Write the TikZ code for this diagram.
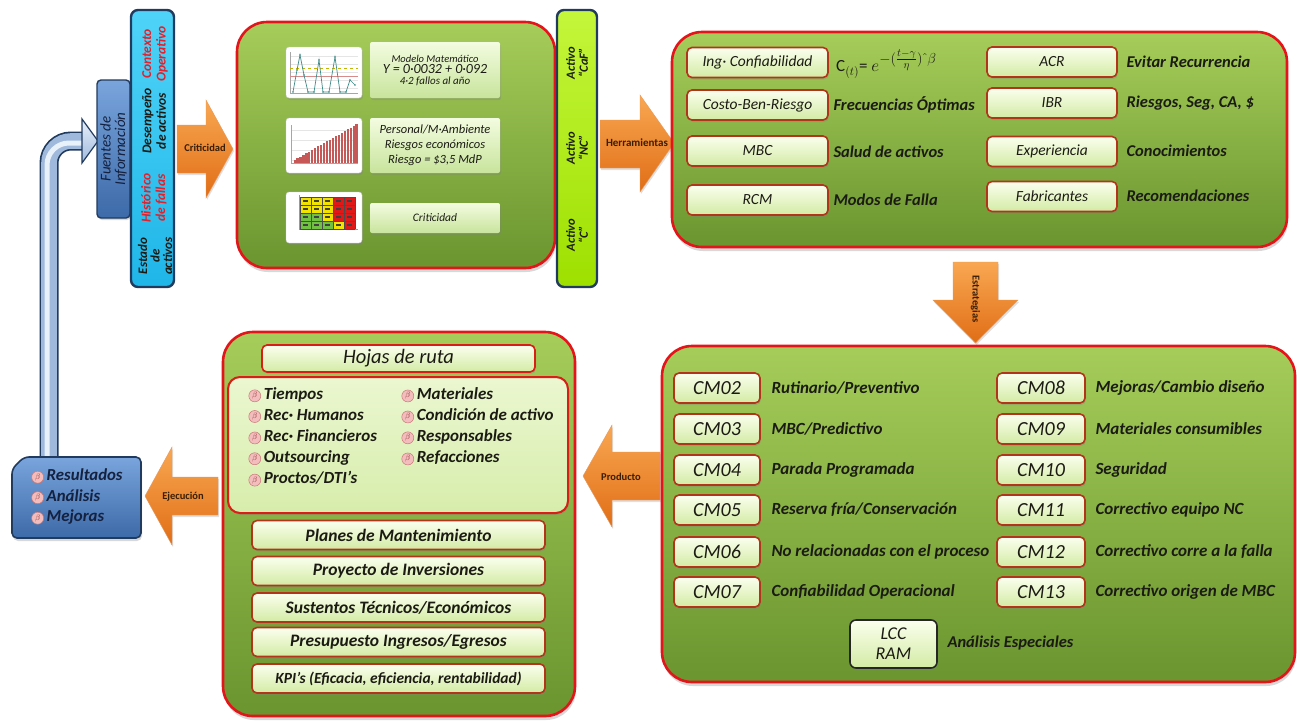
\documentclass[tikz,border=0pt]{standalone}
\usepackage{fontspec}
\setmainfont{Carlito}
\usetikzlibrary{shadows}

\definecolor{panelTop}{HTML}{A6CD5A}
\definecolor{panelBot}{HTML}{6A952F}
\definecolor{panelRed}{HTML}{E3151B}
\definecolor{boxTop}{HTML}{FBFFEE}
\definecolor{boxBot}{HTML}{D3EBA4}
\definecolor{boxLine}{HTML}{B2351B}
\definecolor{listRed}{HTML}{D81E16}
\definecolor{arrTop}{HTML}{F9A752}
\definecolor{arrBot}{HTML}{E06E16}
\definecolor{arrTxt}{HTML}{3A1E05}
\definecolor{cyanTop}{HTML}{4FD3F8}
\definecolor{cyanBot}{HTML}{1FB6E8}
\definecolor{navyLine}{HTML}{213B5E}
\definecolor{limeTop}{HTML}{C4F63A}
\definecolor{limeBot}{HTML}{9EE000}
\definecolor{steelTop}{HTML}{79A4DC}
\definecolor{steelBot}{HTML}{3D6AA8}
\definecolor{inkRed}{HTML}{E3202B}
\definecolor{ink}{HTML}{1B1B14}
\definecolor{navyInk}{HTML}{14213F}
\definecolor{bulFill}{HTML}{F3BDBD}
\definecolor{bulLine}{HTML}{C87878}
\definecolor{bulText}{HTML}{9A3A3A}
\definecolor{pipeMid}{HTML}{9FB9DD}
\definecolor{pipeHi}{HTML}{E8F0FA}
\definecolor{mTop}{HTML}{F3FCE0}
\definecolor{mBot}{HTML}{C8E49C}
\definecolor{rkY}{HTML}{F2E400}
\definecolor{rkR}{HTML}{E01818}
\definecolor{rkG}{HTML}{72C043}
\definecolor{plotLine}{HTML}{3F8C8A}
\definecolor{barRed}{HTML}{C65858}

% pink bullet with a beta
\newcommand{\bpt}{\tikz[baseline={(0pt,-3.8pt)}]\node[circle,draw=bulLine,fill=bulFill,line width=0.5pt,inner sep=0pt,minimum size=12pt,text=bulText,font=\fontsize{8.5}{8.5}\selectfont]{$\beta$};\,}

\begin{document}
\begin{tikzpicture}[x=1pt,y=-1pt,
  panel/.style={draw=panelRed,line width=2.6pt,rounded corners=30pt,top color=panelTop,bottom color=panelBot,
    drop shadow={shadow xshift=1pt,shadow yshift=-4pt,opacity=0.3}},
  tbox/.style={draw=boxLine,line width=1.6pt,rounded corners=5pt,top color=boxTop,bottom color=boxBot,inner sep=1pt,
    text=ink,drop shadow={shadow xshift=1pt,shadow yshift=-2pt,opacity=0.3}},
  mbox/.style={draw=none,rounded corners=2pt,top color=mTop,bottom color=mBot,align=center,text=ink,
    drop shadow={shadow xshift=1pt,shadow yshift=-2pt,opacity=0.3}},
  chart/.style={draw=black!20,line width=0.4pt,fill=white,rounded corners=3pt,
    drop shadow={shadow xshift=1pt,shadow yshift=-2pt,opacity=0.3}},
  vbar/.style={draw=navyLine,line width=2.4pt,rounded corners=7pt},
  orng/.style={top color=arrTop,bottom color=arrBot,draw=arrBot!70!white,line width=0.4pt,
    drop shadow={shadow xshift=1pt,shadow yshift=-2pt,opacity=0.25}},
  albl/.style={font=\fontsize{10.5}{12}\selectfont\bfseries,text=arrTxt},
  vtxt/.style={rotate=90,align=center,font=\fontsize{13.5}{14.5}\selectfont\bfseries\itshape,text=ink},
  desctxt/.style={anchor=west,font=\fontsize{16.5}{18}\selectfont\bfseries\itshape,text=ink},
  cmtxt/.style={anchor=west,font=\fontsize{17}{18}\selectfont\bfseries\itshape,text=ink},
  tooltxt/.style={font=\fontsize{15.5}{17}\selectfont\itshape},
  cmlbl/.style={font=\fontsize{20}{22}\selectfont\itshape},
  listitem/.style={anchor=west,font=\fontsize{17}{19}\selectfont\bfseries\itshape,text=ink},
  rowtxt/.style={font=\fontsize{17.5}{19}\selectfont\bfseries\itshape}
]
\useasboundingbox (0,0) rectangle (1297,721);
\fill[white] (0,0) rectangle (1297,721);

% ---------- feedback pipe from the results box back to the sources ----------
\coordinate (pipeStart) at (49,458);
\coordinate (pipeEnd) at (84,141);
\draw[navyLine,line width=19pt,rounded corners=22pt] (pipeStart) |- (pipeEnd);
\draw[pipeMid,line width=15.6pt,rounded corners=22pt] (pipeStart) |- (pipeEnd);
\draw[pipeHi,line width=5pt,rounded corners=22pt] ([xshift=-2pt]pipeStart) |- ([yshift=-2pt]pipeEnd);
\draw[navyLine,line width=1.2pt,top color=pipeHi,bottom color=pipeMid] (82,119) -- (98,141) -- (82,163) -- cycle;

% ---------- block arrows ----------
\path[orng] (177,125) -- (206,125) -- (206,100) -- (233,149) -- (206,198) -- (206,173) -- (177,173) -- cycle;
\node[albl] (aCrit) at (205,148) {Criticidad};
\path[orng] (600,120) -- (640,120) -- (640,95) -- (674,143) -- (640,192) -- (640,168) -- (600,168) -- cycle;
\path[orng] (953,262) -- (998,262) -- (998,300) -- (1018,300) -- (975.5,343) -- (933,300) -- (953,300) -- cycle;
\node[albl,rotate=-90] (aEstr) at (975.5,299) {Estrategias};
\path[orng] (660,452) -- (612,452) -- (612,425) -- (583,476) -- (612,527) -- (612,500) -- (660,500) -- cycle;
\node[albl] (aProd) at (621,477) {Producto};
\path[orng] (218,477) -- (172,477) -- (172,447) -- (145,496) -- (172,545) -- (172,515) -- (218,515) -- cycle;
\node[albl] (aEjec) at (183,497) {Ejecución};

% ---------- information sources ----------
\node[draw=navyLine,line width=1.4pt,rounded corners=4pt,top color=steelTop,bottom color=steelBot,
      minimum width=33pt,minimum height=138pt,
      drop shadow={shadow xshift=1pt,shadow yshift=-2pt,opacity=0.3}] (fuentes) at (113.5,149) {};
\node[rotate=90,align=center,font=\fontsize{15}{14.5}\selectfont\itshape,text=navyInk] (fuentesT) at (fuentes) {Fuentes de\\Información};

\node[vbar,top color=cyanTop,bottom color=cyanBot,minimum width=43pt,minimum height=277pt] (datos) at (152.5,148.5) {};
\node[vtxt,text=inkRed] (d1) at (155,54) {Contexto\\Operativo};
\node[vtxt] (d2) at (154,121) {Desempeño\\de activos};
\node[vtxt,text=inkRed] (d3) at (154,198) {Histórico\\de fallas};
\node[vtxt,font=\fontsize{13}{12.5}\selectfont\bfseries\itshape] (d4) at (155,256) {Estado\\de\\activos};

% ---------- criticality panel ----------
\node[panel,minimum width=318pt,minimum height=246pt] (pCrit) at (396,145) {};

\node[chart,minimum width=76pt,minimum height=51pt] (ch1) at (324,72.5) {};
\foreach \yy in {56,64,72,80,88} \draw[black!10,line width=0.3pt] (290,\yy) -- (358,\yy);
\draw[black!35,line width=0.4pt] (290,52) -- (290,93) -- (358,93);
\draw[rkY!80!black,line width=0.5pt,dashed] (290,68) -- (358,68);
\draw[barRed!70!white,line width=1pt] (290,76) -- (358,76);
\draw[plotLine,line width=0.7pt] (293,92) -- (297,70) -- (300,55) -- (304,75) -- (308,92) -- (314,92) -- (319,60) -- (323,92)
  -- (329,92) -- (335,57) -- (340,92) -- (346,92) -- (350,80) -- (355,85);
\foreach \px/\py in {293/92,297/70,300/55,304/75,308/92,314/92,319/60,323/92,329/92,335/57,340/92,346/92,350/80,355/85}
  \fill[plotLine] (\px,\py) circle (0.9pt);

\node[chart,minimum width=76pt,minimum height=55pt] (ch2) at (324,145.5) {};
\foreach \yy in {130,140,150,160} \draw[black!10,line width=0.3pt] (291,\yy) -- (358,\yy);
\draw[black!35,line width=0.4pt] (291,125) -- (291,163) -- (358,163);
\foreach \i in {0,...,21}
  \fill[barRed] ({293.5+\i*2.95},163) rectangle ({293.5+\i*2.95+2.2},{163-3-\i*1.7});

\node[chart,minimum width=76pt,minimum height=51pt] (ch3) at (324,217.5) {};
\draw[black!40,line width=0.4pt] (299,195) -- (299,229) -- (358,229);
\foreach \c [count=\k from 0] in {rkY,rkY,rkY,rkR,rkR} \fill[\c] ({300+\k*11},197) rectangle ({300+\k*11+11},205);
\foreach \c [count=\k from 0] in {rkY,rkY,rkY,rkR,rkR} \fill[\c] ({300+\k*11},205) rectangle ({300+\k*11+11},213);
\foreach \c [count=\k from 0] in {rkG,rkG,rkY,rkR,rkR} \fill[\c] ({300+\k*11},213) rectangle ({300+\k*11+11},221);
\foreach \c [count=\k from 0] in {rkG,rkG,rkG,rkY,rkR} \fill[\c] ({300+\k*11},221) rectangle ({300+\k*11+11},229);
\foreach \k in {0,...,5} \draw[black!70,line width=0.3pt] ({300+\k*11},197) -- ({300+\k*11},229);
\foreach \k in {0,...,4} \draw[black!70,line width=0.3pt] (300,{197+\k*8}) -- (355,{197+\k*8});
\foreach \k in {0,...,4}
  \foreach \r in {0,...,3}
    \fill[black!75] ({303+\k*11},{200+\r*8}) rectangle ({308+\k*11},{202+\r*8});

\node[mbox,minimum width=130pt,minimum height=56pt] (m1) at (435,70)
  {{\fontsize{10.5}{13}\selectfont\itshape Modelo Matemático}\\[-1pt]
   {\fontsize{14}{15}\selectfont\itshape Y = 0·0032 + 0·092}\\[-1pt]
   {\fontsize{11}{12}\selectfont\itshape 4·2 fallos al año}};
\node[mbox,minimum width=130pt,minimum height=55pt,font=\fontsize{12.5}{15}\selectfont\itshape] (m2) at (435,145.5)
  {Personal/M·Ambiente\\Riesgos económicos\\Riesgo = \$3,5 MdP};
\node[mbox,minimum width=130pt,minimum height=30pt,font=\fontsize{11.5}{13}\selectfont\itshape] (m3) at (435,218) {Criticidad};

% ---------- asset class bar ----------
\node[vbar,top color=limeTop,bottom color=limeBot,minimum width=40pt,minimum height=277pt] (clase) at (577,148.5) {};
\node[vtxt,font=\fontsize{12.5}{13}\selectfont\bfseries\itshape] (c1) at (577,63) {Activo\\“CaF”};
\node[vtxt,font=\fontsize{12.5}{13}\selectfont\bfseries\itshape] (c2) at (577,148) {Activo\\“NC”};
\node[vtxt,font=\fontsize{12.5}{13}\selectfont\bfseries\itshape] (c3) at (577,235) {Activo\\“C”};

\node[albl,font=\fontsize{11}{12}\selectfont\bfseries] (aHerr) at (637,143) {Herramientas};

% ---------- tools panel ----------
\node[panel,minimum width=615pt,minimum height=215pt] (pHerr) at (979.5,139.5) {};

\node[tbox,tooltxt,minimum width=141pt,minimum height=30pt] (h1) at (757.5,62.5) {Ing· Confiabilidad};
\node[tbox,tooltxt,minimum width=141pt,minimum height=30pt] (h2) at (757.5,105) {Costo-Ben-Riesgo};
\node[tbox,tooltxt,minimum width=141pt,minimum height=30pt] (h3) at (757.5,151) {MBC};
\node[tbox,tooltxt,minimum width=141pt,minimum height=30pt] (h4) at (757.5,200) {RCM};
% reliability formula, exponent set larger than a plain superscript
\node[anchor=west,font=\fontsize{17}{19}\selectfont,text=ink,inner sep=1pt] (f1) at (835,64)
  {C$_{(t)}$= $e$\raisebox{1.1ex}{\fontsize{15}{15}\selectfont$-(\frac{t-\gamma}{\eta})\,\hat{}\,\beta$}};
\node[desctxt] (f2) at (830,105) {Frecuencias Óptimas};
\node[desctxt] (f3) at (830,152) {Salud de activos};
\node[desctxt] (f4) at (830,200) {Modos de Falla};

\node[tbox,tooltxt,minimum width=130pt,minimum height=30pt] (h5) at (1052,62) {ACR};
\node[tbox,tooltxt,minimum width=130pt,minimum height=30pt] (h6) at (1052,103) {IBR};
\node[tbox,tooltxt,minimum width=130pt,minimum height=30pt] (h7) at (1052,151.5) {Experiencia};
\node[tbox,tooltxt,minimum width=130pt,minimum height=30pt] (h8) at (1052,196.5) {Fabricantes};
\node[desctxt] (f5) at (1123,62) {Evitar Recurrencia};
\node[desctxt] (f6) at (1123,103) {Riesgos, Seg, CA, \$};
\node[desctxt] (f7) at (1123,151) {Conocimientos};
\node[desctxt] (f8) at (1123,196) {Recomendaciones};

% ---------- strategies panel ----------
\node[panel,minimum width=633pt,minimum height=336pt] (pEstr) at (978.5,514) {};

\foreach \lbl/\txt/\yy [count=\n] in {CM02/{Rutinario/Preventivo}/388, CM03/{MBC/Predictivo}/429, CM04/{Parada Programada}/470,
    CM05/{Reserva fría/Conservación}/510, CM06/{No relacionadas con el proceso}/552, CM07/{Confiabilidad Operacional}/592}{
  \node[tbox,cmlbl,minimum width=86pt,minimum height=30pt] (cmL\n) at (717,\yy) {\lbl};
  \node[cmtxt] (cmLt\n) at (768,\yy) {\txt};
}
\foreach \lbl/\txt/\yy [count=\n] in {CM08/{Mejoras/Cambio diseño}/388, CM09/{Materiales consumibles}/429, CM10/{Seguridad}/470,
    CM11/{Correctivo equipo NC}/510, CM12/{Correctivo corre a la falla}/552, CM13/{Correctivo origen de MBC}/592}{
  \node[tbox,cmlbl,minimum width=88pt,minimum height=30pt] (cmR\n) at (1041,\yy) {\lbl};
  \node[cmtxt] (cmRt\n) at (1092,\yy) {\txt};
}
\node[tbox,draw=black!85,rounded corners=6pt,align=center,font=\fontsize{18}{20}\selectfont\itshape,
      minimum width=87pt,minimum height=48pt] (lcc) at (893.5,644) {LCC\\RAM};
\node[desctxt] (esp) at (944,643) {Análisis Especiales};

% ---------- product panel ----------
\node[panel,minimum width=352pt,minimum height=384pt] (pProd) at (399,524) {};
\node[tbox,draw=listRed,font=\fontsize{20.5}{22}\selectfont\itshape,minimum width=273pt,minimum height=27pt] (hojas) at (398.5,358.5) {Hojas de ruta};
\node[tbox,draw=listRed,line width=2pt,rounded corners=12pt,top color=boxTop!60!boxBot,bottom color=boxBot!90!boxTop,
      minimum width=340pt,minimum height=136pt] (lista) at (398,445) {};
\node[listitem] (i1) at (245,395) {\bpt Tiempos};
\node[listitem] (i2) at (245,416) {\bpt Rec· Humanos};
\node[listitem] (i3) at (245,437) {\bpt Rec· Financieros};
\node[listitem] (i4) at (245,458) {\bpt Outsourcing};
\node[listitem] (i5) at (245,479) {\bpt Proctos/DTI’s};
\node[listitem] (i6) at (398,395) {\bpt Materiales};
\node[listitem] (i7) at (398,416) {\bpt Condición de activo};
\node[listitem] (i8) at (398,437) {\bpt Responsables};
\node[listitem] (i9) at (398,458) {\bpt Refacciones};

\node[tbox,rowtxt,minimum width=293pt,minimum height=29pt] (b1) at (398.5,535) {Planes de Mantenimiento};
\node[tbox,rowtxt,minimum width=293pt,minimum height=29pt] (b2) at (398.5,571) {Proyecto de Inversiones};
\node[tbox,rowtxt,minimum width=293pt,minimum height=29pt] (b3) at (398.5,607.5) {Sustentos Técnicos/Económicos};
\node[tbox,rowtxt,minimum width=293pt,minimum height=29pt] (b4) at (398.5,642) {Presupuesto Ingresos/Egresos};
\node[tbox,font=\fontsize{15.5}{17}\selectfont\bfseries\itshape,minimum width=293pt,minimum height=29pt] (b5) at (398.5,678.5)
  {KPI's (Eficacia, eficiencia, rentabilidad)};

% ---------- results box ----------
\path[draw=navyLine,line width=1.6pt,rounded corners=5pt,top color=steelTop,bottom color=steelBot,
      drop shadow={shadow xshift=1pt,shadow yshift=-3pt,opacity=0.3}]
  (12,469) -- (24,457) -- (141,457) -- (141,538) -- (12,538) -- cycle;
\node[align=left,font=\fontsize{16.8}{20.5}\selectfont\bfseries\itshape,text=navyInk] (res) at (77,497)
  {\bpt Resultados\\\bpt Análisis\\\bpt Mejoras};

\end{tikzpicture}
\end{document}
